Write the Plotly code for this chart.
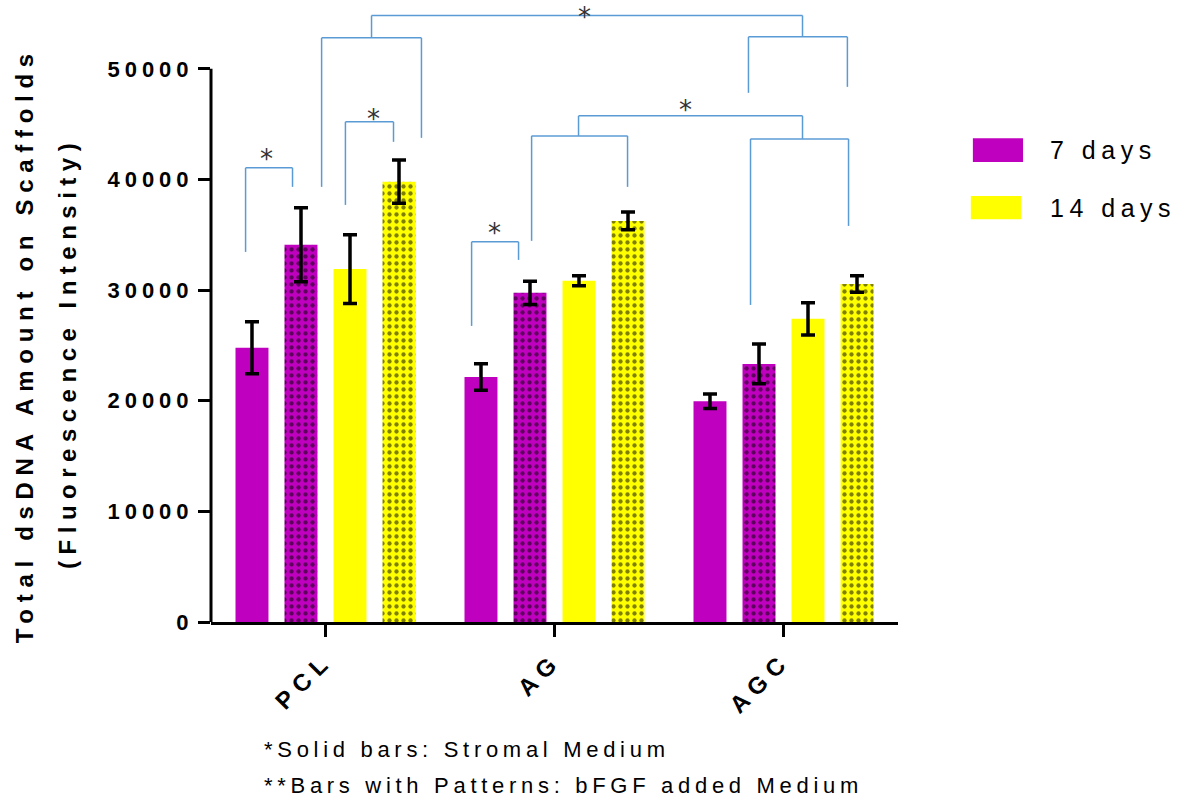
import plotly.graph_objects as go

# ---------------- data ----------------
categories = ["PCL", "AG", "AGC"]

d7_stromal = [24800, 22150, 19950]
d7_stromal_sd = [2350, 1200, 650]
d7_bfgf = [34100, 29750, 23330]
d7_bfgf_sd = [3350, 1050, 1800]
d14_stromal = [31900, 30850, 27400]
d14_stromal_sd = [3100, 450, 1450]
d14_bfgf = [39800, 36250, 30550]
d14_bfgf_sd = [1950, 800, 750]

y_ticks = [0, 10000, 20000, 30000, 40000, 50000]
y_tick_labels = ["0", "10000", "20000", "30000", "40000", "50000"]

# significance brackets: (x_left, x_right, y_top, y_left_end, y_right_end) in axis units
brackets = [
    (-0.349, -0.144, 41050, 33450, 39330),
    (0.087, 0.297, 45210, 37700, 43400),
    (-0.017, 0.419, 52800, 39330, 43760),
    (0.638, 0.843, 34360, 26760, 32730),
    (0.900, 1.319, 43940, 34450, 39330),
    (1.856, 2.284, 43670, 28660, 35800),
    (1.105, 2.083, 45750, 43940, 43670),
    (1.847, 2.279, 52890, 47830, 48370),
    (0.201, 2.083, 54820, 52800, 52890),
]
# star marks (x, y) in axis units
stars = [(-0.258, 42300), (0.210, 45930), (0.738, 35620), (1.572, 46750), (1.131, 55150)]

footnotes = ["*Solid bars: Stromal Medium", "**Bars with Patterns: bFGF added Medium"]

# ---------------- style ----------------
MAGENTA = "#BF00BF"
YELLOW = "#FFFF00"
BRACKET = "#5B9BD5"
FONT = "Liberation Sans, Arial, sans-serif"


def spaced(text, px):
    return '<span style="letter-spacing:%spx">%s</span>' % (px, text)


err_style = dict(type="data", symmetric=True, color="black", thickness=3.5, width=7)
pattern = dict(shape=".", fgcolor="black", size=7, solidity=0.3)

fig = go.Figure()
series = [
    ("7 days, stromal", d7_stromal, d7_stromal_sd, MAGENTA, False),
    ("7 days, bFGF", d7_bfgf, d7_bfgf_sd, MAGENTA, True),
    ("14 days, stromal", d14_stromal, d14_stromal_sd, YELLOW, False),
    ("14 days, bFGF", d14_bfgf, d14_bfgf_sd, YELLOW, True),
]
for name, vals, sd, col, pat in series:
    marker = dict(color=col, line=dict(width=0))
    if pat:
        marker["pattern"] = dict(pattern, bgcolor=col)
    fig.add_trace(go.Bar(
        x=categories, y=vals, name=name, marker=marker,
        error_y=dict(err_style, array=sd), showlegend=False,
    ))

shapes = []
# y-axis line from 0 to 50000
shapes.append(dict(type="line", xref="paper", yref="y", x0=0, x1=0, y0=0, y1=max(y_ticks),
                   line=dict(color="black", width=3)))
for xl, xr, yt, yl, yr in brackets:
    ln = dict(color=BRACKET, width=1.5)
    shapes.append(dict(type="line", xref="x", yref="y", x0=xl, x1=xr, y0=yt, y1=yt, line=ln))
    shapes.append(dict(type="line", xref="x", yref="y", x0=xl, x1=xl, y0=yl, y1=yt, line=ln))
    shapes.append(dict(type="line", xref="x", yref="y", x0=xr, x1=xr, y0=yr, y1=yt, line=ln))

# legend swatches (paper coords)
shapes.append(dict(type="rect", xref="paper", yref="paper", x0=1.109, x1=1.182, y0=0.749, y1=0.788,
                   fillcolor=MAGENTA, line=dict(width=0)))
shapes.append(dict(type="rect", xref="paper", yref="paper", x0=1.106, x1=1.179, y0=0.656, y1=0.694,
                   fillcolor=YELLOW, line=dict(width=0)))

annotations = []
for sx, sy in stars:
    annotations.append(dict(x=sx, y=sy, xref="x", yref="y", text="*", showarrow=False,
                            font=dict(family="DejaVu Sans", size=26, color="#333333"),
                            xanchor="center", yanchor="middle", yshift=-5))
# y-axis title (two lines)
annotations.append(dict(x=-0.271, y=25000, xref="paper", yref="y", textangle=-90,
                        text=spaced("Total dsDNA Amount on Scaffolds", 6.7), showarrow=False,
                        font=dict(family=FONT, size=24, color="black", weight="bold"),
                        xanchor="center", yanchor="middle"))
annotations.append(dict(x=-0.210, y=24300, xref="paper", yref="y", textangle=-90,
                        text=spaced("(Fluorescence Intensity)", 6.5), showarrow=False,
                        font=dict(family=FONT, size=24, color="black", weight="bold"),
                        xanchor="center", yanchor="middle"))
# legend labels
annotations.append(dict(x=1.218, y=0.768, xref="paper", yref="paper", text=spaced("7 days", 5.5),
                        showarrow=False, xanchor="left", yanchor="middle",
                        font=dict(family=FONT, size=25, color="black")))
annotations.append(dict(x=1.218, y=0.674, xref="paper", yref="paper", text=spaced("14 days", 5.5),
                        showarrow=False, xanchor="left", yanchor="middle",
                        font=dict(family=FONT, size=25, color="black")))
# footnotes
for i, t in enumerate(footnotes):
    annotations.append(dict(x=0.074, y=-0.208 - i * 0.059, xref="paper", yref="paper",
                            text=spaced(t, 4.7), showarrow=False, xanchor="left", yanchor="middle",
                            font=dict(family=FONT, size=22, color="black")))

fig.update_layout(
    width=1182, height=801,
    margin=dict(l=211, r=284, t=8, b=179, autoexpand=False),
    paper_bgcolor="white", plot_bgcolor="white",
    barmode="group", bargap=0.144, bargroupgap=0.327,
    shapes=shapes, annotations=annotations,
    font=dict(family=FONT, color="black"),
    xaxis=dict(type="category", range=[-0.5, 2.5], showline=True, linewidth=3, linecolor="black",
               ticks="outside", ticklen=12, tickwidth=3, tickcolor="black",
               tickvals=categories, ticktext=[spaced(c, 7) for c in categories],
               tickangle=-45, tickfont=dict(family=FONT, size=24, color="black", weight="bold"),
               showgrid=False, zeroline=False),
    yaxis=dict(range=[0, 55500], showline=False, ticks="outside", ticklen=12, tickwidth=3,
               tickcolor="black", tickvals=y_ticks, ticktext=[spaced(t, 5) for t in y_tick_labels],
               tickfont=dict(family=FONT, size=22, color="black", weight="bold"),
               showgrid=False, zeroline=False),
)

fig.write_html("out.html")
